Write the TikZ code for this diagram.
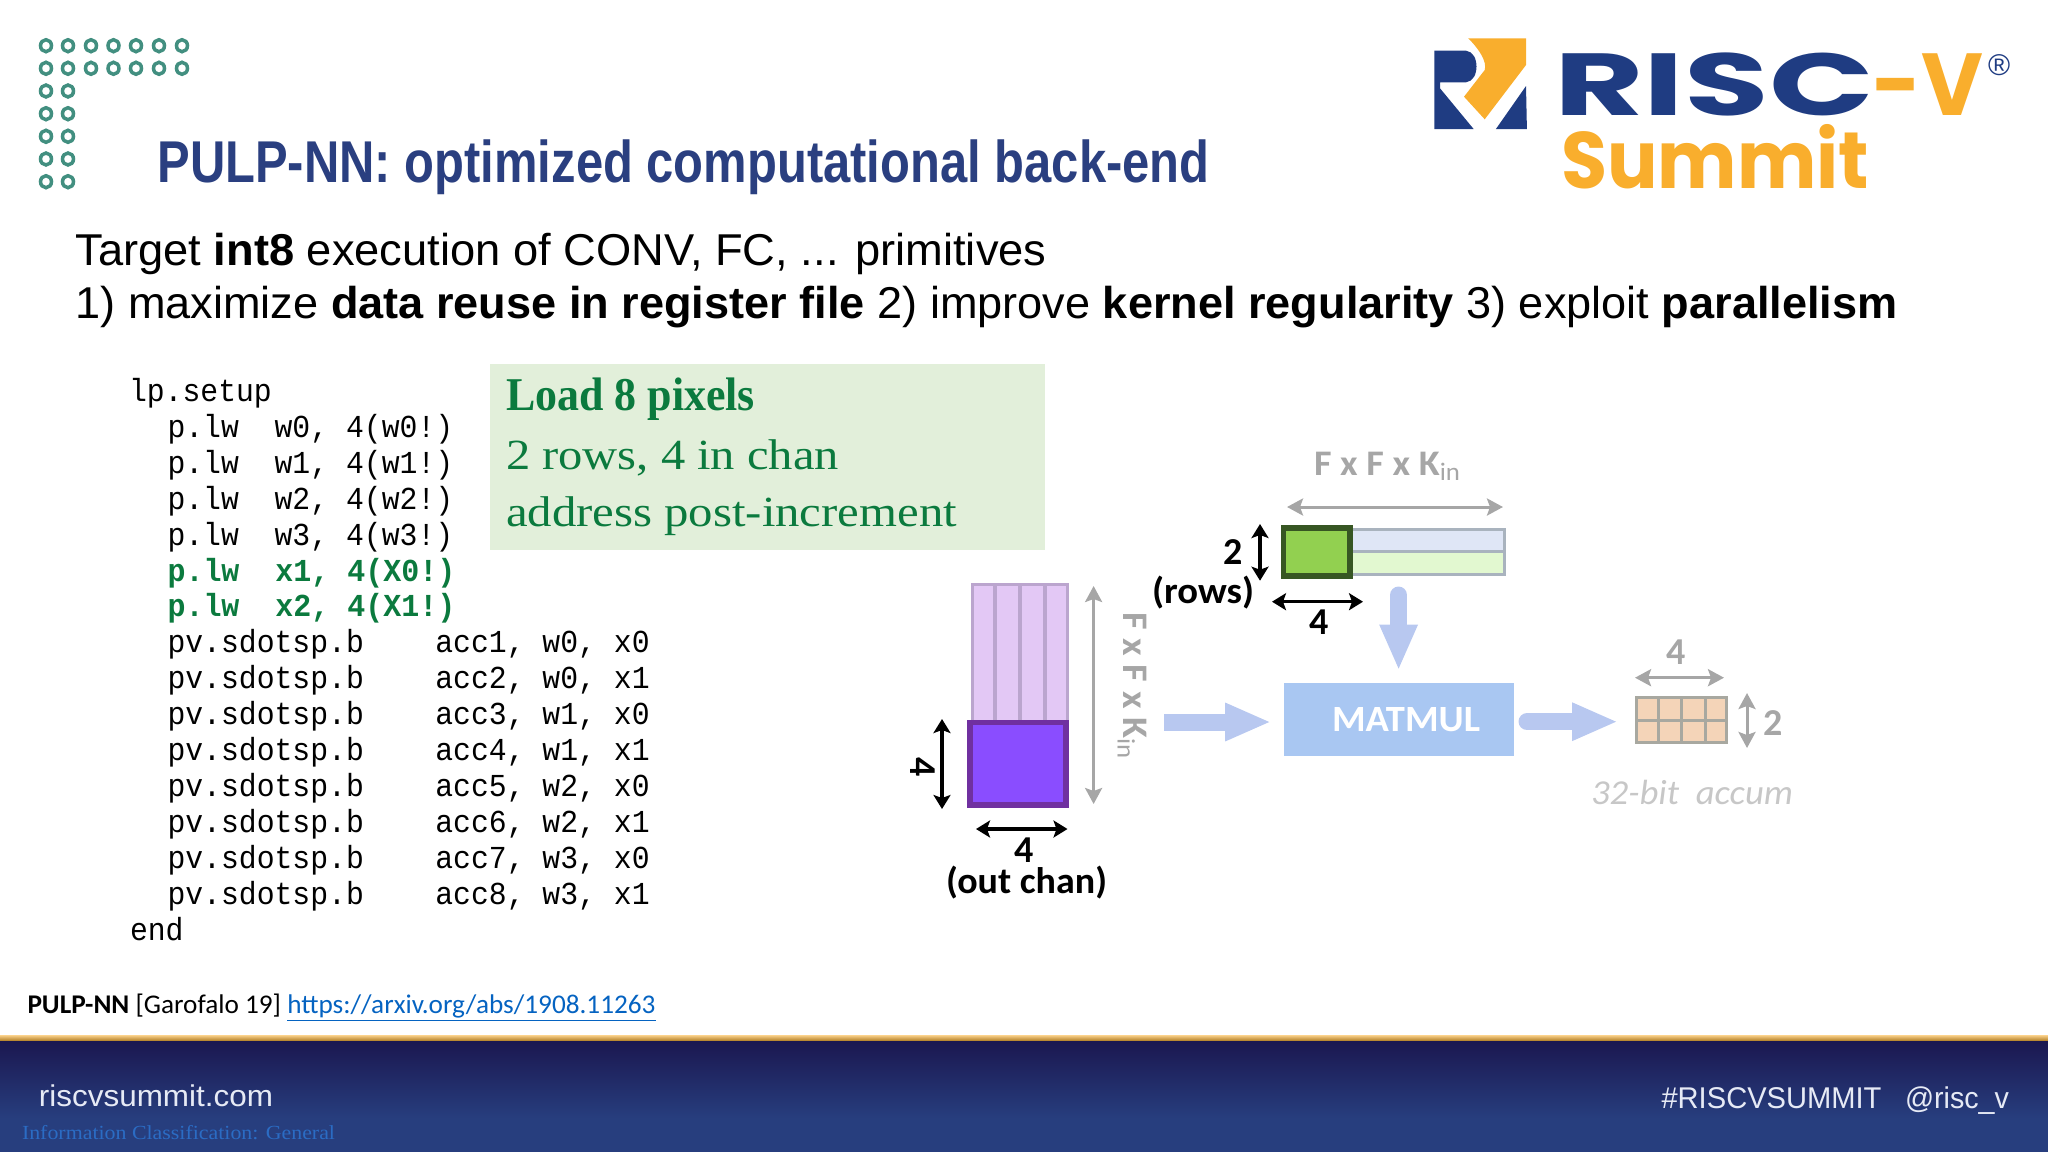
\documentclass[tikz,border=0pt]{standalone}
\usepackage{fontspec}
\usepackage{graphicx}
\usepackage{xcolor}
\usepackage{tikz}
\usetikzlibrary{arrows.meta,shapes.geometric}
\setmainfont{Liberation Sans}
\newfontfamily\codefont[FakeStretch=0.93]{Liberation Mono}
\newfontfamily\calfont{Carlito}
\newfontfamily\popfont{Poppins}
\newfontfamily\serfont{Liberation Serif}
\newcommand{\px}[1]{\fontsize{#1}{#1}\selectfont}
\newcommand{\fitw}[2]{\resizebox{#1}{\height}{#2}}
\definecolor{titleblue}{HTML}{2A3F80}
\definecolor{logoblue}{HTML}{1F3C82}
\definecolor{logoorange}{HTML}{F9AE2D}
\definecolor{ringteal}{HTML}{428F80}
\definecolor{codegreen}{HTML}{0B7A3E}
\definecolor{boxgreen}{HTML}{E2EFDA}
\definecolor{dimgrey}{HTML}{A6A6A6}
\definecolor{arrowblue}{HTML}{B8C8F0}
\definecolor{footlink}{HTML}{2B6CC4}
\definecolor{foottop}{HTML}{1B1750}
\definecolor{footbot}{HTML}{273E7E}
\definecolor{footfont}{HTML}{E6EAF5}
\definecolor{gridline}{HTML}{A8A8A0}
\definecolor{stackedge}{HTML}{BBA5CE}
\definecolor{stackfill}{HTML}{E3C8F5}
\definecolor{sliceedge}{HTML}{7030A0}
\definecolor{slicefill}{HTML}{8A4DFF}
\definecolor{stripedge}{HTML}{A9B3BE}
\definecolor{stripblue}{HTML}{DFE6F6}
\definecolor{stripgreen}{HTML}{E2F8D0}
\definecolor{pixeledge}{HTML}{375623}
\definecolor{pixelfill}{HTML}{92D050}
\definecolor{matfill}{HTML}{A9C7F2}
\definecolor{accumfill}{HTML}{F4D4B8}
\tikzset{
	txt/.style={anchor=base west,inner sep=0pt,outer sep=0pt},
	codeline/.style={txt,font=\codefont\px{16}},
	greenline/.style={codeline,font=\codefont\bfseries\px{16},text=codegreen},
	loadline/.style={txt,font=\serfont\px{21.5},text=codegreen},
	blacknum/.style={inner sep=0pt,font=\calfont\bfseries\px{19}},
	greynum/.style={blacknum,text=dimgrey},
	ring/.style={ellipse,draw=ringteal,line width=1.75pt,inner sep=0pt,minimum width=5.5pt,minimum height=6pt},
	block/.style={draw,line width=1.5pt,inner sep=0pt},
	dimblack/.style={<->,>={Stealth[length=7pt,width=8.5pt,inset=1.5pt]},line width=1.75pt,color=black},
	dimgr/.style={<->,>={Stealth[length=8pt,width=8.5pt,inset=1.5pt]},line width=1.5pt,color=dimgrey},
	bluearrow/.style={-{Triangle[length=23pt,width=17.5pt]},line width=8.5pt,line cap=round,color=arrowblue},
}
\begin{document}
\begin{tikzpicture}[x=0.5pt,y=-0.5pt]
	\useasboundingbox (0,0) rectangle (2048,1152);
	%
	%  FOOTER
	%
	\shade[top color=logoorange!55!white,bottom color=logoorange!70!black] (0,1035) rectangle (2048,1041);
	\shade[top color=foottop,bottom color=footbot] (0,1041) rectangle (2048,1118);
	\fill[footbot] (0,1118) rectangle (2048,1152);
	\node[txt,font=\px{15},text=footfont] (site) at (39,1106) {\fitw{117pt}{riscvsummit.com}};
	\node[txt,font=\serfont\px{10},text=footlink] (classif) at (22,1139) {\fitw{156.5pt}{Information Classification: General}};
	\node[txt,font=\px{15},text=footfont] (tag) at (1661.5,1108) {\fitw{110pt}{\#RISCVSUMMIT}};
	\node[txt,font=\px{15},text=footfont] (handle) at (1905,1108) {\fitw{52pt}{@risc\_v}};
	\node[txt,font=\calfont\px{13.5}] (cite) at (27.5,1013) {\fitw{314pt}{\textbf{PULP-NN} [Garofalo 19] \textcolor[HTML]{0563C1}{\underline{https://arxiv.org/abs/1908.11263}}}};
	%
	%  LOGOS
	%
	\foreach \row/\yy in {1/45.7,2/68.3}
		\foreach \col/\xx in {1/46,2/68,3/91,4/113.5,5/136,6/159,7/182}
			\node[ring] (ring\row\col) at (\xx,\yy) {};
	\foreach \row/\yy in {3/91,4/113.7,5/136.3,6/159,7/181.7}
		\foreach \col/\xx in {1/46,2/68}
			\node[ring] (ring\row\col) at (\xx,\yy) {};
	\fill[logoblue] (1434.3,50.7) -- (1466,50.7) .. controls (1480,52) and (1480,81) .. (1466,82.3) -- (1440,82.3) -- (1440,88.3) -- (1473.6,129) -- (1434.3,129) -- cycle;
	\fill[logoblue] (1526,86) -- (1526.9,129) -- (1495.9,129) -- cycle;
	\fill[logoorange] (1468.2,38.3) -- (1526,38.3) -- (1526,65) -- (1484.7,119.3) -- (1464,96.7) -- (1484.7,70) .. controls (1487,62) and (1480,50) .. (1468.2,38.3) -- cycle;
	\node[txt,font=\popfont\bfseries\px{44},text=logoblue] (risc) at (1554,115) {\fitw{160pt}{RISC}};
	\node[txt,font=\popfont\bfseries\px{44},text=logoorange] (riscv) at (1872,115) {\fitw{55.5pt}{-V}};
	\node[txt,font=\px{15},text=logoblue] (regd) at (1988,75) {\textregistered};
	\node[txt,font=\popfont\bfseries\px{40},text=logoorange] (summit) at (1561,188) {\fitw{154pt}{Summit}};
	%
	%  HEADINGS
	%
	\node[txt,font=\bfseries\px{29.5},text=titleblue] (title) at (157.5,182.5) {\fitw{526pt}{PULP-NN: optimized computational back-end}};
	\node[txt,font=\px{22.3}] (lineone) at (75.5,265) {\fitw{485.5pt}{Target \textbf{int8} execution of CONV, FC, ... primitives}};
	\node[txt,font=\px{22.3}] (linetwo) at (75.5,318.5) {\fitw{911pt}{1) maximize \textbf{data reuse in register file} 2) improve \textbf{kernel regularity} 3) exploit \textbf{parallelism}}};
	%
	%  CODE
	%
	\node[codeline] (c1) at (129,401.5) {lp.setup};
	\node[codeline] (c2) at (167.5,437.4) {p.lw~~w0,~4(w0!)};
	\node[codeline] (c3) at (167.5,473.3) {p.lw~~w1,~4(w1!)};
	\node[codeline] (c4) at (167.5,509.2) {p.lw~~w2,~4(w2!)};
	\node[codeline] (c5) at (167.5,545.1) {p.lw~~w3,~4(w3!)};
	\node[greenline] (c6) at (167.5,581) {\fitw{144pt}{p.lw~~x1,~4(X0!)}};
	\node[greenline] (c7) at (167.5,616.9) {\fitw{144pt}{p.lw~~x2,~4(X1!)}};
	\node[codeline] (c8) at (167.5,652.8) {pv.sdotsp.b~~~~acc1,~w0,~x0};
	\node[codeline] (c9) at (167.5,688.7) {pv.sdotsp.b~~~~acc2,~w0,~x1};
	\node[codeline] (c10) at (167.5,724.6) {pv.sdotsp.b~~~~acc3,~w1,~x0};
	\node[codeline] (c11) at (167.5,760.5) {pv.sdotsp.b~~~~acc4,~w1,~x1};
	\node[codeline] (c12) at (167.5,796.4) {pv.sdotsp.b~~~~acc5,~w2,~x0};
	\node[codeline] (c13) at (167.5,832.3) {pv.sdotsp.b~~~~acc6,~w2,~x1};
	\node[codeline] (c14) at (167.5,868.2) {pv.sdotsp.b~~~~acc7,~w3,~x0};
	\node[codeline] (c15) at (167.5,904.1) {pv.sdotsp.b~~~~acc8,~w3,~x1};
	\node[codeline] (c16) at (130,940) {end};
	%
	\node[fill=boxgreen,inner sep=0pt,minimum width=277.5pt,minimum height=93pt] (loadbox) at (767.5,457) {};
	\node[loadline,font=\serfont\bfseries\px{23.5}] (load1) at (506,410) {\fitw{124.5pt}{Load 8 pixels}};
	\node[loadline] (load2) at (506,469) {\fitw{166.5pt}{2 rows, 4 in chan}};
	\node[loadline] (load3) at (506,526) {\fitw{225.5pt}{address post-increment}};
	%
	%  BLOCKS
	%
	\node[block,draw=stackedge,fill=stackfill,minimum width=47.25pt,minimum height=69pt] (stack) at (1019.8,653) {};
	\foreach \xx in {995,1020,1045}
		\draw[stackedge,line width=2pt] (\xx,584) -- (\xx,722);
	\node[block,draw=sliceedge,fill=slicefill,minimum width=48pt,minimum height=41.1pt,line width=2.75pt] (slice) at (1018.2,763.8) {};
	\node[block,draw=stripedge,fill=stripblue,minimum width=82pt,minimum height=11.25pt] (striptop) at (1422,540.7) {};
	\node[block,draw=stripedge,fill=stripgreen,minimum width=82pt,minimum height=11.25pt] (stripbot) at (1422,563.2) {};
	\node[block,draw=pixeledge,fill=pixelfill,minimum width=33.35pt,minimum height=24.2pt,line width=2.75pt] (pixels) at (1316.8,552) {};
	\node[fill=matfill,inner sep=0pt,minimum width=115pt,minimum height=36.35pt] (matmul) at (1398.6,719.3) {};
	\node[text=white,inner sep=0pt,font=\calfont\bfseries\px{18.5}] (matmullab) at (1406,720) {\fitw{74pt}{MATMUL}};
	\node[block,draw=gridline,fill=accumfill,minimum width=45pt,minimum height=22.25pt] (accum) at (1681.5,720.2) {};
	\foreach \xx in {1658,1681,1705}
		\draw[gridline,line width=1.5pt] (\xx,698) -- (\xx,742.5);
	\draw[gridline,line width=1.5pt] (accum.west) -- (accum.east);
	%
	%  LABELS
	%
	\node[greynum] (grid4) at (1676,651.7) {4};
	\node[greynum] (grid2) at (1773,722.7) {2};
	\node[blacknum] (slice4) at (1024.6,850) {4};
	\node[blacknum,rotate=-90] (side4) at (923,767) {4};
	\node[blacknum] (px4) at (1319,621.7) {4};
	\node[blacknum] (px2) at (1233.6,552) {2};
	\node[txt,font=\calfont\bfseries\px{18.5}] (rows) at (1152,603) {\fitw{51pt}{(rows)}};
	\node[txt,font=\calfont\bfseries\px{18.5}] (outchan) at (946,893) {\fitw{80.5pt}{(out chan)}};
	\node[txt,font=\calfont\bfseries\px{18},text=dimgrey] (ffkh) at (1314,475) {\fitw{73.5pt}{F x F x K\textsubscript{\mdseries in}}};
	\node[anchor=base,inner sep=0pt,rotate=-90,font=\calfont\bfseries\px{18},text=dimgrey] (ffkv) at (1123,686) {\fitw{73.5pt}{F x F x K\textsubscript{\mdseries in}}};
	\node[txt,font=\calfont\itshape\px{17.5},text=black!22] (accumlab) at (1591,804) {\fitw{101pt}{32-bit\ \ accum}};
	%
	%  CONNECTORS
	%
	\coordinate (a1) at (942,719);
	\coordinate (a2) at (942,809);
	\coordinate (b1) at (976,829);
	\coordinate (b2) at (1067.5,829);
	\coordinate (c1e) at (1093.6,586);
	\coordinate (c2e) at (1093.6,804);
	\coordinate (d1) at (1287,507);
	\coordinate (d2) at (1503,507);
	\coordinate (e1) at (1260,524);
	\coordinate (e2) at (1260,580.7);
	\coordinate (f1) at (1272,601.7);
	\coordinate (f2) at (1363,601.7);
	\coordinate (g1) at (1635,677.7);
	\coordinate (g2) at (1724,677.7);
	\coordinate (h1) at (1747,693);
	\coordinate (h2) at (1747,748);
	\coordinate (instart) at (1164,722);
	\coordinate (topstart) at (1398.6,595);
	\coordinate (outstart) at (1527,721.7);
	\path[dimblack]
	(a1) edge (a2)
	(b1) edge (b2)
	(e1) edge (e2)
	(f1) edge (f2);
	\path[dimgr]
	(c1e) edge (c2e)
	(d1) edge (d2)
	(g1) edge (g2)
	(h1) edge (h2);
	\draw[bluearrow,line cap=butt,shorten >=6pt] (instart) -- (matmul.west |- instart);
	\draw[bluearrow,shorten >=6pt] (topstart) -- (matmul.north);
	\draw[bluearrow,shorten >=8.5pt] (outstart) -- (accum.west |- outstart);
\end{tikzpicture}
\end{document}
